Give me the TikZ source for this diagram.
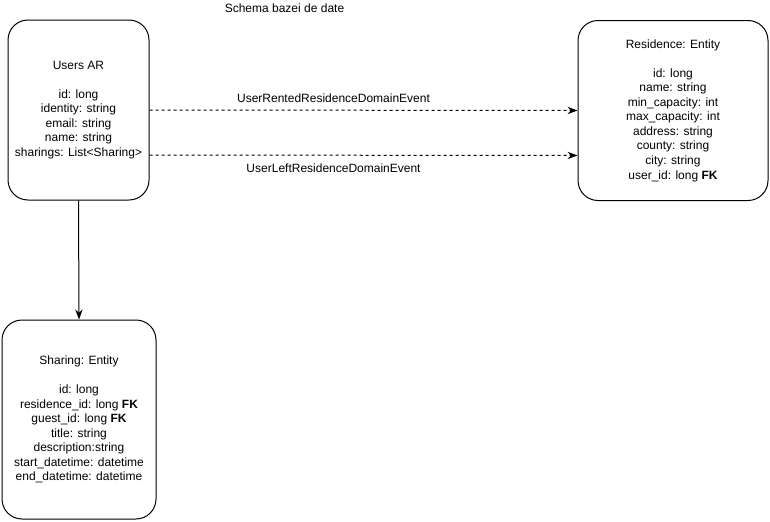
\documentclass[tikz,border=0pt]{standalone}
\usepackage{fontspec}
\setmainfont{Liberation Sans}
\usetikzlibrary{arrows.meta}
\begin{document}
\begin{tikzpicture}[x=0.75pt,y=-0.75pt,
  every node/.style={font=\fontsize{9}{10.9}\selectfont, inner sep=0pt},
  entity/.style={draw=black, line width=0.75pt, rounded corners=15pt, align=center, fill=white},
  flow/.style={draw=black, line width=0.75pt, -{Stealth[length=7.5pt,width=5.5pt]}},
  event/.style={flow, dashed, dash pattern=on 2.25pt off 2.25pt}
]
\useasboundingbox (0,0) rectangle (770,521);
\fill[white] (0,0) rectangle (770,521);

\node (title) at (284.5,8) {Schema bazei de date};

\node[entity, minimum width=105.75pt, minimum height=135pt] (users) at (78.5,110)
  {Users AR\\[10.9pt]id: long\\identity: string\\email: string\\name: string\\sharings: List<Sharing>};

\node[entity, minimum width=142.5pt, minimum height=135pt] (res) at (673,110.5)
  {Residence: Entity\\[10.9pt]id: long\\name: string\\min\_capacity: int\\max\_capacity: int\\address: string\\county: string\\city: string\\user\_id: long \textbf{FK}};

\node[entity, minimum width=115.5pt, minimum height=149.25pt] (share) at (79,419.5)
  {Sharing: Entity\\[10.9pt]id: long\\residence\_id: long \textbf{FK}\\guest\_id: long \textbf{FK}\\title: string\\description:string\\start\_datetime: datetime\\end\_datetime: datetime};

\draw[event] (users.east) -- (res.west)
  node[pos=0.43, above=5pt] (lbl1) {UserRentedResidenceDomainEvent};
\draw[event] ([yshift=-33.75pt]users.east) -- ([yshift=-33.75pt]res.west)
  node[pos=0.43, below=6pt] (lbl2) {UserLeftResidenceDomainEvent};

\draw[flow] (users.south) -- (share.north);
\end{tikzpicture}
\end{document}
